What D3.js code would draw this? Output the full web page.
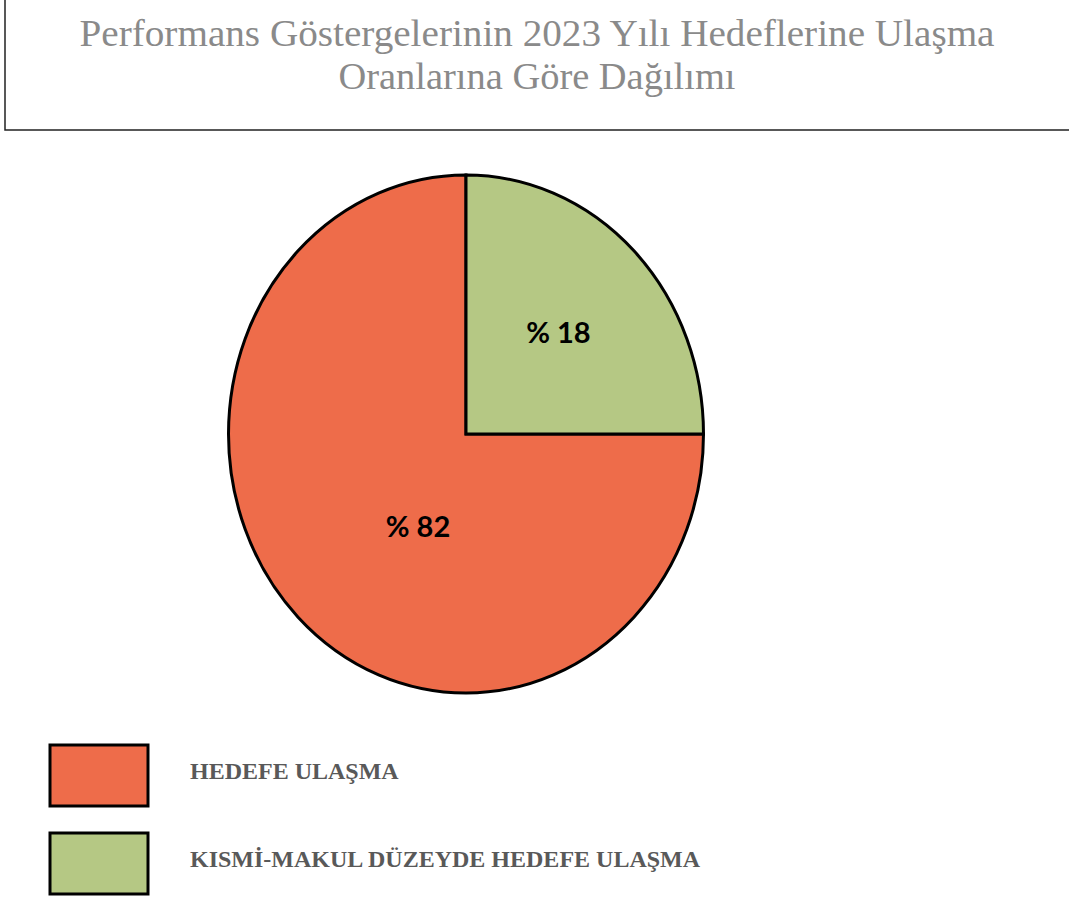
<!DOCTYPE html>
<html lang="tr">
<head>
<meta charset="UTF-8">
<title>Performans Göstergeleri 2023</title>
<script src="https://cdn.jsdelivr.net/npm/d3@7/dist/d3.min.js"></script>
<style>
  html, body { margin: 0; padding: 0; background: #fff; }
  svg { display: block; }
</style>
</head>
<body>
<div id="chart"></div>
<script>
// data
const titleLines = ["Performans Göstergelerinin 2023 Yılı Hedeflerine Ulaşma", "Oranlarına Göre Dağılımı"];
const categories = ["HEDEFE ULAŞMA", "KISMİ-MAKUL DÜZEYDE HEDEFE ULAŞMA"];
const percentLabels = [82, 18];
// slice shares as drawn in the picture (the green slice is drawn as a quarter)
const sliceShares = [75, 25];
const colors = ["#EE6C4A", "#B5C884"];

const W = 1069, H = 903;
const cx = 466, cy = 434, rx = 237.5, ry = 259;

const svg = d3.select("#chart").append("svg")
  .attr("width", W).attr("height", H);

// title box (left + bottom border)
svg.append("path")
  .attr("d", `M5,0 V130 H${W}`)
  .attr("fill", "none").attr("stroke", "#222").attr("stroke-width", 1.5);

const titleWidths = [915, 397];
svg.append("g").selectAll("text")
  .data(titleLines).join("text")
  .attr("x", 537).attr("y", (d, i) => 46 + i * 43)
  .attr("text-anchor", "middle")
  .attr("font-family", "'Liberation Serif', serif")
  .attr("font-size", 37)
  .attr("textLength", (d, i) => titleWidths[i])
  .attr("lengthAdjust", "spacingAndGlyphs")
  .attr("fill", "#8a8a8a")
  .text(d => d);

// pie, drawn on a unit circle and stretched to the ellipse
const rows = categories.map((c, i) => ({ name: c, share: sliceShares[i], pct: percentLabels[i], color: colors[i] }));
const pie = d3.pie().value(d => d.share).sort(null).startAngle(Math.PI / 2).endAngle(Math.PI * 2.5);
const arcs = pie(rows);
const arc = d3.arc().innerRadius(0).outerRadius(1);

const gPie = svg.append("g").attr("transform", `translate(${cx},${cy}) scale(${rx},${ry})`);
gPie.selectAll("path")
  .data(arcs).join("path")
  .attr("d", arc)
  .attr("fill", d => d.data.color)
  .attr("stroke", "#000")
  .attr("stroke-width", 3)
  .attr("stroke-linejoin", "miter")
  .attr("vector-effect", "non-scaling-stroke");

// label anchors (angle, radius on the unit ellipse)
const labelPos = [{ a: 209.5, r: 0.41 }, { a: 45, r: 0.55 }];
svg.append("g").selectAll("text")
  .data(arcs).join("text")
  .attr("x", (d, i) => cx + Math.sin(labelPos[i].a * Math.PI / 180) * labelPos[i].r * rx)
  .attr("y", (d, i) => cy - Math.cos(labelPos[i].a * Math.PI / 180) * labelPos[i].r * ry)
  .attr("dy", "0.35em")
  .attr("text-anchor", "middle")
  .attr("font-family", "Lato, 'DejaVu Sans', sans-serif")
  .attr("font-weight", "bold")
  .attr("font-size", 29)
  .attr("fill", "#000")
  .text(d => "% " + d.data.pct);

// legend
const legend = svg.append("g").selectAll("g")
  .data(rows).join("g")
  .attr("transform", (d, i) => `translate(50,${745 + i * 88})`);
legend.append("rect")
  .attr("width", 98).attr("height", 61)
  .attr("fill", d => d.color)
  .attr("stroke", "#000").attr("stroke-width", 3);
legend.append("text")
  .attr("x", 140).attr("y", 34)
  .attr("font-family", "'Liberation Serif', serif")
  .attr("font-weight", "bold")
  .attr("font-size", 24)
  .attr("fill", "#595959")
  .text(d => d.name);
</script>
</body>
</html>
